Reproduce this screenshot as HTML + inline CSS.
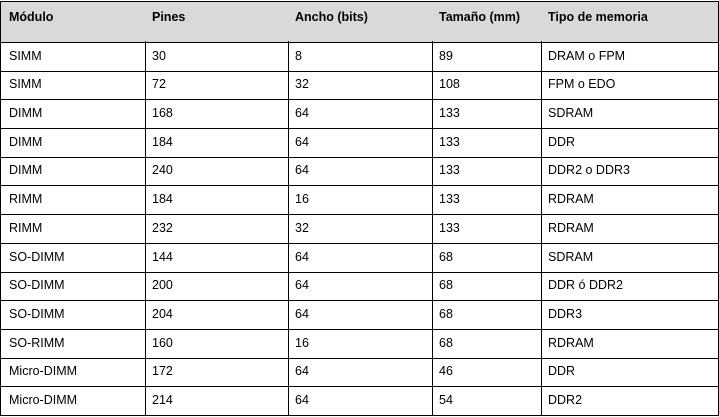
<!DOCTYPE html>
<html><head><meta charset="utf-8"><style>
body{margin:0;width:719px;height:417px;background:#fff;position:relative;overflow:hidden;font-family:"Liberation Sans",sans-serif;font-size:12.5px;color:#000}
.c{position:absolute;box-sizing:border-box;border-right:1.5px solid #000;border-bottom:1.5px solid #000;padding-left:8px;display:flex;align-items:center}
.h{background:#d9d9d9;font-weight:bold;align-items:flex-start;padding-top:8px}
</style></head><body>
<div id="t"></div>
<script>
const headers=["Módulo","Pines","Ancho (bits)","Tamaño (mm)","Tipo  de memoria"];
const rows=[["SIMM","30","8","89","DRAM o FPM"],["SIMM","72","32","108","FPM o EDO"],["DIMM","168","64","133","SDRAM"],["DIMM","184","64","133","DDR"],["DIMM","240","64","133","DDR2 o DDR3"],["RIMM","184","16","133","RDRAM"],["RIMM","232","32","133","RDRAM"],["SO-DIMM","144","64","68","SDRAM"],["SO-DIMM","200","64","68","DDR ó DDR2"],["SO-DIMM","204","64","68","DDR3"],["SO-RIMM","160","16","68","RDRAM"],["Micro-DIMM","172","64","46","DDR"],["Micro-DIMM","214","64","54","DDR2"]];
const xs=[0,144,287,431,540,717];
const top0=1,hh=40,rh=(414-41)/13;
const t=document.getElementById('t');
function cell(txt,ci,y,h,isH){
 const d=document.createElement('div');
 
 
 d.className='c'+(isH?' h':'');
 d.style.left=xs[ci]+'px';d.style.top=y+'px';
 d.style.width=(xs[ci+1]-xs[ci]+1.5)+'px';d.style.height=(h+1.5)+'px';
 if(ci===0)d.style.borderLeft='1.5px solid #000';
 if(y===top0)d.style.borderTop='1.5px solid #000';
 d.textContent=txt;t.appendChild(d);
}
headers.forEach((h,i)=>cell(h,i,top0,hh,true));
rows.forEach((r,ri)=>r.forEach((v,ci)=>cell(v,ci,Math.round(41+ri*rh),Math.round(41+(ri+1)*rh)-Math.round(41+ri*rh),false)));
</script>
</body></html>
